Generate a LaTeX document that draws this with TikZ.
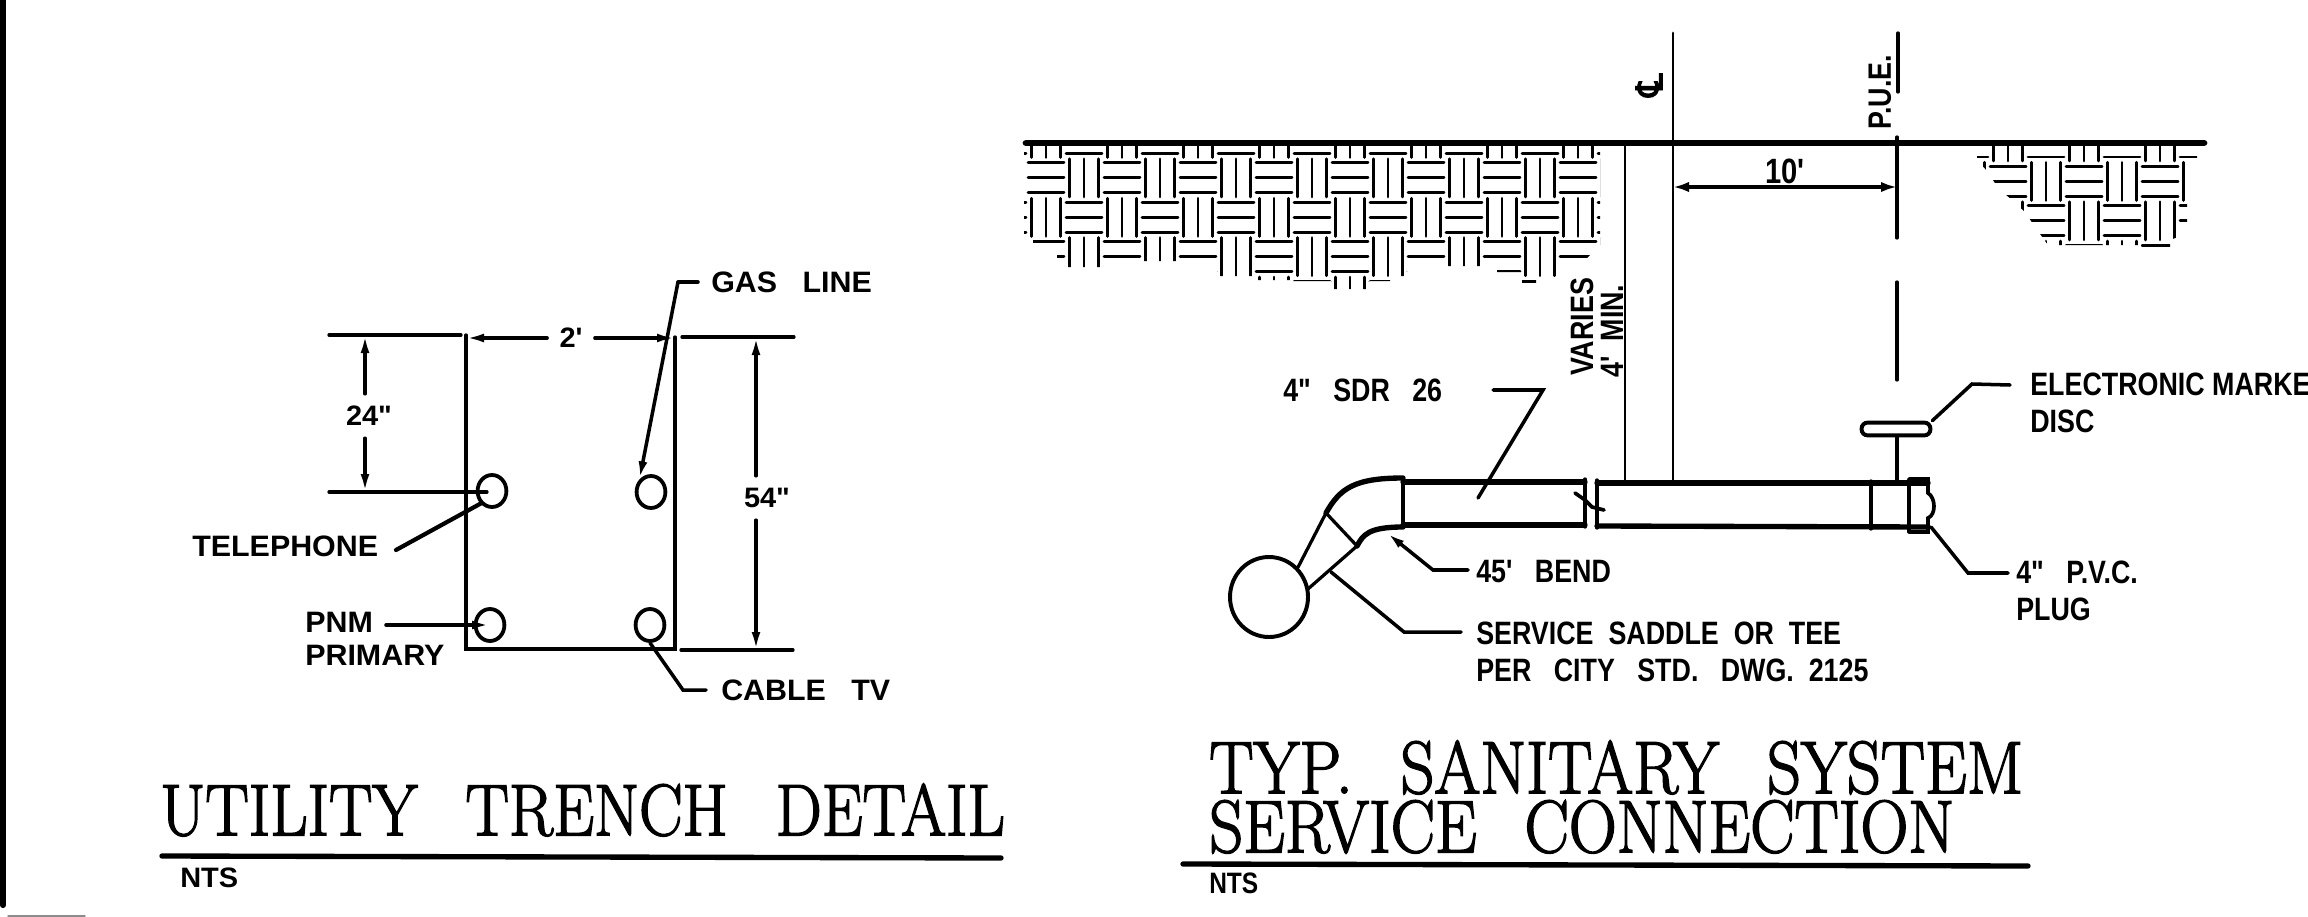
\documentclass[tikz,border=0pt]{standalone}
\usepackage{fontspec}
\usetikzlibrary{shapes.geometric, arrows.meta, positioning, calc}
\newfontfamily\cadfont[FakeStretch=1.03]{Liberation Sans}
\newfontfamily\cadnarrow[FakeStretch=0.83]{Liberation Sans}
\newfontfamily\titlefont[FakeBold=2,FakeStretch=0.89]{Latin Modern Roman}
\newfontfamily\clfont[FakeBold=2.5]{DejaVu Sans}
\newcommand{\titlegap}{\hspace*{1.2cm}}

% one field of the basket weave: x and y of the first cell, last column, last row
\newcommand{\weavefield}[4]{%
  \foreach \col in {0,...,#3}{%
    \foreach \row in {0,...,#4}{%
      \pgfmathsetmacro\cx{#1+38*\col}
      \pgfmathsetmacro\cy{#2+39.4*\row}
      \pgfmathtruncatemacro\flat{mod(\col+\row,2)}
      \ifnum\flat=0
        \foreach \dy in {-15,0,15} \draw[weave] (\cx-18,\cy+\dy) -- (\cx+18,\cy+\dy);
      \else
        \foreach \dx in {-14.5,0,14.5} \draw[weave] (\cx+\dx,\cy-19) -- (\cx+\dx,\cy+19);
      \fi
    }%
  }%
}

\begin{document}
\begin{tikzpicture}[x=0.25mm, y=-0.25mm, line cap=round]
        \tikzset{
            thinline/.style={line width=2.3pt},
            propline/.style={line width=2.1pt},
            heavyline/.style={line width=3.8pt},
            weave/.style={line width=2.1pt},
            leader/.style={line width=2.5pt},
            dimtip/.style={-{Latex[length=4.5mm, width=2.2mm]}},
            lbl/.style={anchor=west, inner sep=0pt, align=left, font=\cadfont\bfseries\fontsize{21}{23}\selectfont},
            lblr/.style={anchor=west, inner sep=0pt, align=left, font=\cadnarrow\bfseries\fontsize{23}{26}\selectfont},
            dimtxt/.style={inner sep=3mm, font=\cadfont\bfseries\fontsize{20}{24}\selectfont},
            vtxt/.style={rotate=90, inner sep=0pt, font=\cadnarrow\bfseries\fontsize{23}{24}\selectfont},
            titletxt/.style={anchor=west, inner sep=0pt, align=left, font=\titlefont\fontsize{52}{42}\selectfont},
            pipehole/.style={draw, ellipse, line width=2.7pt, minimum width=7.2mm, minimum height=8mm, inner sep=0pt}
        }
        \useasboundingbox (0,0) rectangle (2308,917);

        % Sheet Edge
        \coordinate (edgetop) at (3,0);
        \coordinate (edgebot) at (3,905);
        \draw[line width=4.4pt] (edgetop) -- (edgebot);
        \coordinate (scrapa) at (8,916);
        \coordinate (scrapb) at (85,916);
        \draw[line width=1pt, black!45] (scrapa) -- (scrapb);

        % Trench Outline
        \coordinate (tl) at (466,335);
        \coordinate (tr) at (675,337);
        \coordinate (bl) at (466,649);
        \coordinate (br) at (675,649);
        \draw[thinline] (tl) -- (bl) -- (br) -- (tr);

        % Pipes In Trench
        \node[pipehole] (telephone) at (492,491) {};
        \node[pipehole] (gas) at (651,492) {};
        \node[pipehole] (primary) at (490,625) {};
        \node[pipehole] (cable) at (650,625) {};

        % Extension Lines
        \coordinate (ext1a) at (329,335);
        \coordinate (ext1b) at (461,335);
        \coordinate (ext2a) at (682,337);
        \coordinate (ext2b) at (794,337);
        \coordinate (ext3a) at (329,492);
        \coordinate (ext3b) at (487,492);
        \coordinate (ext4a) at (681,650);
        \coordinate (ext4b) at (793,650);
        \draw[thinline] (ext1a) -- (ext1b);
        \draw[thinline] (ext2a) -- (ext2b);
        \draw[thinline] (ext3a) -- (ext3b);
        \draw[thinline] (ext4a) -- (ext4b);

        % Dimensions
        \node[dimtxt] (dim2ft) at (571,338) {2'};
        \node[dimtxt] (dim24) at (369,416) {24"};
        \node[dimtxt] (dim54) at (767,498) {54"};
        \coordinate (a24top) at (365,335);
        \coordinate (a24bot) at (365,492);
        \coordinate (a54top) at (756,337);
        \coordinate (a54bot) at (756,650);
        \draw[thinline, dimtip] (dim2ft.west) -- (tl |- dim2ft);
        \draw[thinline, dimtip] (dim2ft.east) -- (tr |- dim2ft);
        \draw[thinline, dimtip] (a24top |- dim24.north) -- (a24top);
        \draw[thinline, dimtip] (a24bot |- dim24.south) -- (a24bot);
        \draw[thinline, dimtip] (a54top |- dim54.north) -- (a54top);
        \draw[thinline, dimtip] (a54bot |- dim54.south) -- (a54bot);

        % Trench Labels
        \node[lbl] (lblgas) at (711,282) {GAS~~~LINE};
        \node[lbl] (lbltel) at (192,546) {TELEPHONE};
        \node[lbl] (lblpnm) at (305,639) {PNM\\PRIMARY};
        \node[lbl] (lblcable) at (721,690) {CABLE~~~TV};

        % Trench Leaders
        \coordinate (gas1) at (698,282);
        \coordinate (gas2) at (678,282);
        \coordinate (tel1) at (396,550);
        \coordinate (pnm1) at (386,625);
        \coordinate (cable1) at (706,690);
        \coordinate (cable2) at (683,690);
        \draw[leader] (gas1) -- (gas2);
        \draw[leader, dimtip] (gas2) -- (gas.north west);
        \draw[line width=3pt] (tel1) -- (telephone.south west);
        \draw[leader, dimtip] (pnm1) -- (primary.center);
        \draw[leader] (cable1) -- (cable2) -- (cable.south);

        % Left Title
        \node[titletxt] (title1) at (160,810) {UTILITY\titlegap TRENCH\titlegap DETAIL};
        \coordinate (rule1a) at (162,856);
        \coordinate (rule1b) at (1001,858);
        \draw[heavyline] (rule1a) -- (rule1b);
        \node[lbl, font=\cadfont\bfseries\fontsize{20}{24}\selectfont] (nts1) at (180,878) {NTS};

        % Weave Fields
        \begin{scope}
            \clip (1024,145) -- (1600,145) -- (1600,245) -- (1587,258) -- (1558,258) -- (1558,278) -- (1536,278) -- (1536,283) -- (1522,283) -- (1522,272) -- (1497,272) -- (1497,258) -- (1483,258) -- (1483,266) -- (1445,266) -- (1445,258) -- (1407,258) -- (1407,276) -- (1390,276) -- (1390,281) -- (1369,281) -- (1369,289) -- (1331,289) -- (1331,281) -- (1292,281) -- (1292,280) -- (1255,280) -- (1255,276) -- (1217,276) -- (1217,258) -- (1179,258) -- (1179,261) -- (1141,261) -- (1141,258) -- (1103,258) -- (1103,267) -- (1065,267) -- (1065,258) -- (1057,258) -- (1057,243) -- (1033,243) -- (1033,238) -- (1024,238) -- cycle;
            \weavefield{1008}{138.5}{16}{4}
        \end{scope}
        \begin{scope}
            \clip (1977,145) -- (2197,145) -- (2197,160) -- (2187,160) -- (2187,225) -- (2178,225) -- (2178,237) -- (2170,240) -- (2170,250) -- (2141,250) -- (2141,245) -- (2048,245) -- (2035,227) -- (2025,212) -- (2012,200) -- (1998,188) -- (1988,172) -- (1977,160) -- cycle;
            \weavefield{1970}{142}{6}{3}
        \end{scope}

        % Ground And Property Lines
        \coordinate (ground1) at (1026,143);
        \coordinate (ground2) at (2204,143);
        \draw[line width=4.8pt] (ground1) -- (ground2);
        \coordinate (cltop) at (1673,33);
        \coordinate (clbot) at (1673,480);
        \coordinate (varytop) at (1625,143);
        \coordinate (varybot) at (1625,480);
        \coordinate (pue0a) at (1898,33);
        \coordinate (pue0b) at (1898,92);
        \coordinate (pue1a) at (1897,137);
        \coordinate (pue1b) at (1897,238);
        \coordinate (pue2a) at (1897,282);
        \coordinate (pue2b) at (1897,380);
        \coordinate (pue3a) at (1897,436);
        \coordinate (pue3b) at (1897,482);
        \draw[propline] (cltop) -- (clbot);
        \draw[propline] (varytop) -- (varybot);
        \draw[thinline] (pue0a) -- (pue0b);
        \draw[thinline] (pue1a) -- (pue1b);
        \draw[thinline] (pue2a) -- (pue2b);
        \draw[thinline] (pue3a) -- (pue3b);

        % Offset Dimension
        \coordinate (off1) at (1673,187);
        \coordinate (off2) at (1897,187);
        \draw[line width=3pt, {Latex[length=4mm, width=2.6mm]}-{Latex[length=4mm, width=2.6mm]}] (off1) -- (off2);
        \node[inner sep=0pt, font=\cadnarrow\bfseries\fontsize{25}{26}\selectfont] (dim10) at (1785,171) {10'};

        % Vertical Texts
        \node[vtxt, font=\clfont\fontsize{26}{26}\selectfont] (clmark) at (1649,85) {℄};
        \node[vtxt] (puetxt) at (1880,92) {P.U.E.};
        \node[vtxt] (varies) at (1582,327) {VARIES};
        \node[vtxt] (minimum) at (1612,331) {4'~~MIN.};

        % Service Pipe
        \coordinate (p1) at (1403,478);
        \coordinate (p2) at (1403,527);
        \coordinate (p3) at (1585,482);
        \coordinate (p4) at (1585,525);
        \coordinate (p5) at (1597,483);
        \coordinate (p6) at (1597,526);
        \coordinate (p7) at (1928,483);
        \coordinate (p8) at (1928,527);
        \draw[heavyline] (p1 |- p3) -- (p3);
        \draw[heavyline] (p1 |- p4) -- (p4);
        \draw[heavyline] (p5) -- (p7);
        \draw[heavyline] (p6) -- (p8);
        \draw[thinline] (p1) -- (p2);
        \draw[thinline] (1585,479) -- (1585,527);
        \draw[thinline] (1597,480) -- (1597,528);
        \draw[line width=2.6pt] (1575,493) -- (1585,500) -- (1592,507) -- (1604,510);

        % Plug
        \draw[thinline] (1871,481) -- (1871,529);
        \draw[thinline] (1909,480) -- (1909,532);
        \draw[line width=2.6pt] (1909,479) -- (1928,479) -- (1928,493) .. controls (1936,498) and (1936,515) .. (1928,518) -- (1928,532) -- (1909,532);

        % Bend And Saddle
        \node[draw, ellipse, line width=2.8pt, minimum width=1.95cm, minimum height=2cm, inner sep=0pt] (main) at (1269,597) {};
        \coordinate (s1) at (1326,513);
        \coordinate (s2) at (1357,546);
        \draw[thinline] (main.north east) -- (s1) -- (s2) -- ($(main.east)+(-2,-8)$);
        \draw[heavyline] (s1) .. controls (1340,488) and (1355,478) .. (p1);
        \draw[heavyline] (s2) .. controls (1363,535) and (1368,527) .. (p2);

        % Disc
        \node[draw, rounded corners=1.5mm, line width=2.8pt, minimum width=1.72cm, minimum height=0.32cm, inner sep=0pt] (disc) at (1896,429) {};

        % Service Labels
        \node[lblr] (lblsdr) at (1283,390) {4"~~~SDR~~~26};
        \node[lblr] (lblbend) at (1476,572) {45'~~~BEND};
        \node[lblr] (lblsaddle) at (1476,652) {SERVICE~~SADDLE~~OR~~TEE\\PER~~~CITY~~~STD.~~~DWG.~~2125};
        \node[lblr] (lblplug) at (2016,591) {4"~~~P.V.C.\\PLUG};
        \node[lblr] (lbldisc) at (2030,403) {ELECTRONIC~MARKE\\DISC};

        % Service Leaders
        \coordinate (sdr1) at (1493,390);
        \coordinate (sdr2) at (1543,390);
        \coordinate (sdr3) at (1478,498);
        \coordinate (bend1) at (1468,570);
        \coordinate (bend2) at (1433,570);
        \coordinate (bend3) at (1387,533);
        \coordinate (saddle1) at (1461,632);
        \coordinate (saddle2) at (1404,632);
        \coordinate (saddle3) at (1331,572);
        \coordinate (plug1) at (2008,573);
        \coordinate (plug2) at (1968,573);
        \coordinate (plug3) at (1931,527);
        \coordinate (disc1) at (2010,385);
        \coordinate (disc2) at (1972,384);
        \draw[leader] (sdr1) -- (sdr2) -- (sdr3);
        \draw[leader, dimtip] (bend1) -- (bend2) -- (bend3);
        \draw[leader] (saddle1) -- (saddle2) -- (saddle3);
        \draw[leader] (plug1) -- (plug2) -- (plug3);
        \draw[leader] (disc1) -- (disc2) -- (disc.north east);

        % Right Title
        \node[titletxt, font=\titlefont\fontsize{53}{42}\selectfont] (title2) at (1209,797) {TYP.\titlegap SANITARY\titlegap SYSTEM\\SERVICE\titlegap CONNECTION};
        \coordinate (rule2a) at (1183,864);
        \coordinate (rule2b) at (2028,866);
        \draw[heavyline] (rule2a) -- (rule2b);
        \node[lbl, font=\cadnarrow\bfseries\fontsize{21}{24}\selectfont] (nts2) at (1209,883) {NTS};
    \end{tikzpicture}
\end{document}
